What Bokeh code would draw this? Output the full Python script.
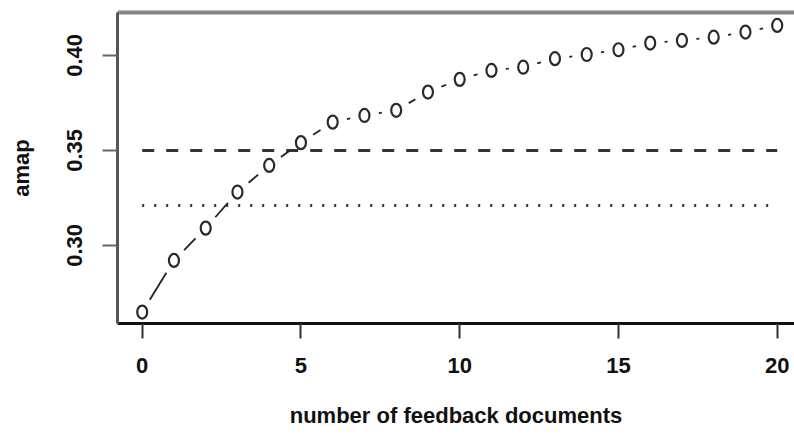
from bokeh.plotting import figure
from bokeh.models import Range1d, LinearAxis, FixedTicker
from bokeh.embed import file_html
from bokeh.resources import INLINE

# ---- data ----
feedback_docs = list(range(0, 21))
amap = [0.2649, 0.2921, 0.3091, 0.3281, 0.3421, 0.3541, 0.3649, 0.3684,
        0.3711, 0.3807, 0.3874, 0.3921, 0.3938, 0.3983, 0.4005, 0.4030,
        0.4065, 0.4079, 0.4096, 0.4123, 0.4158]
baseline_dashed = 0.350
baseline_dotted = 0.321
x_ticks = [0, 5, 10, 15, 20]
x_tick_labels = ["0", "5", "10", "15", "20"]
y_ticks = [0.30, 0.35, 0.40]
y_tick_labels = ["0.30", "0.35", "0.40"]
x_title = "number of feedback documents"
y_title = "amap"

# ---- layout ----
W, H = 794, 435
B_LEFT, B_RIGHT, B_TOP, B_BOTTOM = 117, 0, 12, 112
X_START, X_END = -0.778, 20.545
Y_START, Y_END = 0.2589, 0.4226
FONT = "Liberation Sans"
WEIGHT = "bold"

frame_w = W - B_LEFT - B_RIGHT
frame_h = H - B_TOP - B_BOTTOM
sx = frame_w / (X_END - X_START)
sy = frame_h / (Y_END - Y_START)

p = figure(width=W, height=H, output_backend="svg", toolbar_location=None,
           x_range=Range1d(X_START, X_END), y_range=Range1d(Y_START, Y_END),
           min_border_left=B_LEFT, min_border_right=B_RIGHT,
           min_border_top=B_TOP, min_border_bottom=B_BOTTOM,
           background_fill_color="white", border_fill_color="white")
p.xgrid.visible = False
p.ygrid.visible = False
p.outline_line_color = None

# x axis
xa = p.xaxis[0]
xa.ticker = FixedTicker(ticks=x_ticks)
xa.major_label_overrides = {t: l for t, l in zip(x_ticks, x_tick_labels)}
xa.minor_tick_line_color = None
xa.major_tick_in = 0
xa.major_tick_out = 15
xa.major_tick_line_width = 2
xa.major_tick_line_color = "#333333"
xa.axis_line_width = 3
xa.axis_line_color = "#111111"
xa.major_label_text_font = FONT
xa.major_label_text_font_size = "22px"
xa.major_label_text_font_style = WEIGHT
xa.major_label_text_color = "#111111"
xa.major_label_standoff = 19
xa.axis_label = x_title
xa.axis_label_text_font = FONT
xa.axis_label_text_font_size = "22px"
xa.axis_label_text_font_style = WEIGHT
xa.axis_label_text_color = "#111111"
xa.axis_label_standoff = 27

# y axis
ya = p.yaxis[0]
ya.ticker = FixedTicker(ticks=y_ticks)
ya.major_label_overrides = {t: l for t, l in zip(y_ticks, y_tick_labels)}
ya.minor_tick_line_color = None
ya.major_tick_in = 0
ya.major_tick_out = 15
ya.major_tick_line_width = 2
ya.major_tick_line_color = "#666666"
ya.axis_line_width = 3
ya.axis_line_color = "#555555"
ya.major_label_orientation = "vertical"
ya.major_label_text_font = FONT
ya.major_label_text_font_size = "22px"
ya.major_label_text_font_style = WEIGHT
ya.major_label_text_color = "#111111"
ya.major_label_standoff = 20
ya.axis_label = y_title
ya.axis_label_text_font = FONT
ya.axis_label_text_font_size = "22px"
ya.axis_label_text_font_style = WEIGHT
ya.axis_label_text_color = "#111111"
ya.axis_label_standoff = 31

# top border line as an axis with no ticks
top = LinearAxis(ticker=FixedTicker(ticks=[]), major_tick_out=0, major_tick_in=0,
                 major_label_standoff=0, minor_tick_line_color=None,
                 major_tick_line_color=None, axis_line_color="#858585",
                 axis_line_width=4)
p.add_layout(top, "above")

# reference lines
p.line([feedback_docs[0], feedback_docs[-1]], [baseline_dashed, baseline_dashed],
       line_dash="12 12", line_width=3, line_color="#333333")
p.line([feedback_docs[0], feedback_docs[-1]], [baseline_dotted, baseline_dotted],
       line_dash="2 10", line_width=3, line_color="#333333")

# connecting segments with gaps around the points (R type="b")
GAP = 14.5
x0s, y0s, x1s, y1s = [], [], [], []
for i in range(len(feedback_docs) - 1):
    xa_, ya_ = feedback_docs[i], amap[i]
    xb_, yb_ = feedback_docs[i + 1], amap[i + 1]
    dx = (xb_ - xa_) * sx
    dy = (yb_ - ya_) * sy
    L = (dx * dx + dy * dy) ** 0.5
    if L <= 2 * GAP + 1:
        continue
    f = GAP / L
    x0s.append(xa_ + (xb_ - xa_) * f)
    y0s.append(ya_ + (yb_ - ya_) * f)
    x1s.append(xb_ - (xb_ - xa_) * f)
    y1s.append(yb_ - (yb_ - ya_) * f)
p.segment(x0s, y0s, x1s, y1s, line_color="#222222", line_width=1.8)

# points
p.ellipse(feedback_docs, amap, width=10, height=13, width_units="screen",
          height_units="screen", fill_color=None, line_color="#2a2a2a",
          line_width=2.2)

open("out.html", "w").write(file_html(p, INLINE))
